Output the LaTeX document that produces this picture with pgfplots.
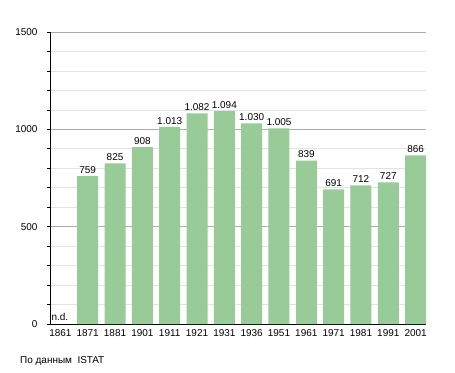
\documentclass[border=0pt]{standalone}
\usepackage{fontspec}
\setmainfont{Liberation Sans}
\usepackage{pgfplots}
\pgfplotsset{compat=1.18}
\definecolor{barg}{HTML}{98CB98}
\begin{document}
\begin{tikzpicture}
\path[use as bounding box] (-50bp,-49bp) rectangle (405bp,324bp);
\begin{axis}[
  at={(0,0)}, anchor=south west,
  scale only axis, width=376bp, height=292bp,
  xmin=-0.38, xmax=13.38, ymin=0, ymax=1500,
  axis lines*=left,
  axis line style={black, line width=0.9pt},
  ytick={0,500,1000,1500},
  minor ytick={100,200,300,400,600,700,800,900,1100,1200,1300,1400},
  ymajorgrids, yminorgrids,
  major grid style={gray!65, line width=0.6pt},
  minor grid style={gray!22, line width=0.6pt},
  tick align=outside,
  major tick length=3bp, minor tick length=3bp,
  xtick={0,...,13},
  xticklabels={1861,1871,1881,1901,1911,1921,1931,1936,1951,1961,1971,1981,1991,2001},
  xtick style={draw=none},
  ytick style={black, line width=0.6pt},
  tick label style={font=\fontsize{10}{11}\selectfont},
  /pgf/number format/assume math mode=true,
  /pgf/number format/1000 sep={},
  yticklabel style={xshift=-6bp},
  xticklabel style={yshift=1bp},
  ybar, bar width=21bp,
  nodes near coords={\pgfmathprintnumber[1000 sep={.},assume math mode=true]{\pgfplotspointmeta}},
  nodes near coords style={font=\fontsize{10}{11}\selectfont, inner sep=2.5bp},
  clip=false,
]
\addplot[fill=barg, draw=none] coordinates {
(1,759) (2,825) (3,908) (4,1013) (5,1082) (6,1094) (7,1030) (8,1005) (9,839) (10,691) (11,712) (12,727) (13,866)
};
\node[anchor=south west, font=\fontsize{10}{11}\selectfont, inner sep=0pt] at (axis cs:-0.33,18) {n.d.};
\end{axis}
\node[anchor=west, font=\fontsize{10}{11}\selectfont, inner sep=0pt] at (-30bp,-37bp) {По данным\ \ ISTAT};
\end{tikzpicture}
\end{document}
